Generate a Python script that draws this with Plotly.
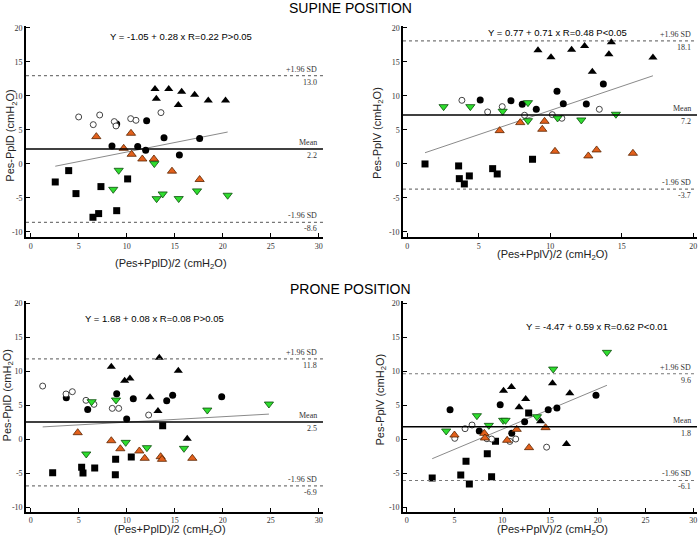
import plotly.graph_objects as go

# === TICKS ===
Y_TICKS = [-10, -5, 0, 5, 10, 15, 20]
Y_TICK_TEXT = ['-10', '-5', '0', '5', '10', '15', '20']
X_TICKS_30 = [0, 5, 10, 15, 20, 25, 30]
X_TICKS_20 = [0, 5, 10, 15, 20]

# === SUPINE, Pes-PplD ===
sup_d_sq_x = [2.56, 3.96, 4.72, 7.32, 10.1, 6.49, 7.08, 8.96]
sup_d_sq_y = [-2.65, -0.98, -4.36, -3.33, -2.2, -7.84, -7.3, -6.87]
sup_d_dot_x = [8.96, 12.08, 8.47, 11.15, 11.98, 13.89, 17.6, 15.49]
sup_d_dot_y = [5.88, 6.37, 2.65, 2.55, 2.01, 3.87, 3.75, 1.3]
sup_d_open_x = [5.0, 7.19, 6.52, 8.71, 8.89, 10.42, 10.97, 13.57]
sup_d_open_y = [6.91, 7.2, 5.78, 6.23, 5.59, 6.66, 6.42, 7.55]
sup_d_tri_x = [12.95, 14.38, 15.73, 17.08, 13.09, 15.38, 18.5, 20.3]
sup_d_tri_y = [11.02, 11.02, 10.62, 10.18, 9.59, 8.66, 9.35, 9.35]
sup_d_or_x = [6.84, 10.45, 9.69, 10.52, 11.63, 12.84, 14.72, 17.6]
sup_d_or_y = [4.02, 4.51, 2.3, 1.42, 0.73, 0.73, -1.06, -2.29]
sup_d_gr_x = [9.17, 12.88, 8.6, 13.12, 13.75, 15.42, 17.33, 20.52]
sup_d_gr_y = [-0.93, 0.05, -3.73, -5.1, -4.41, -5.09, -3.96, -4.6]

# === SUPINE, Pes-PplV ===
sup_v_sq_x = [1.24, 3.59, 3.64, 3.99, 4.34, 5.97, 6.29, 8.76]
sup_v_sq_y = [0.0, -0.29, -2.16, -2.94, -1.76, -0.69, -1.47, 0.69]
sup_v_dot_x = [5.1, 7.25, 8.04, 9.02, 10.47, 10.91, 12.52, 13.71]
sup_v_dot_y = [9.41, 9.31, 8.78, 8.04, 10.69, 8.87, 8.82, 11.76]
sup_v_open_x = [3.82, 5.62, 6.64, 8.2, 10.14, 10.81, 13.43]
sup_v_open_y = [9.36, 7.65, 8.43, 7.16, 7.25, 6.72, 8.04]
sup_v_tri_x = [9.14, 10.05, 11.49, 12.4, 14.27, 14.1, 12.94, 17.18]
sup_v_tri_y = [16.72, 15.69, 16.81, 17.35, 17.9, 16.13, 13.57, 15.64]
sup_v_or_x = [6.46, 7.9, 9.6, 9.44, 10.33, 12.66, 13.24, 15.78]
sup_v_or_y = [4.9, 6.08, 6.27, 5.1, 1.86, 1.18, 2.06, 1.57]
sup_v_gr_x = [2.54, 4.41, 6.67, 8.44, 8.44, 10.51, 12.17, 14.59]
sup_v_gr_y = [8.43, 8.43, 7.75, 9.02, 6.37, 6.76, 6.47, 7.31]

# === PRONE, Pes-PplD ===
pro_d_sq_x = [2.29, 5.31, 5.45, 6.67, 8.82, 8.85, 10.48, 13.75]
pro_d_sq_y = [-4.95, -4.17, -5.0, -4.26, -5.25, -2.99, -2.65, 1.96]
pro_d_dot_x = [3.71, 5.94, 8.96, 10.69, 10.0, 14.17, 14.79, 19.9]
pro_d_dot_y = [6.07, 4.36, 6.66, 5.93, 2.94, 5.64, 6.42, 6.2]
pro_d_open_x = [1.25, 3.68, 4.34, 5.76, 6.59, 8.5, 9.17, 12.29]
pro_d_open_y = [7.79, 6.62, 6.96, 5.69, 5.1, 4.51, 4.51, 3.53]
pro_d_tri_x = [8.4, 9.79, 10.34, 12.43, 13.26, 13.4, 15.38, 16.31]
pro_d_tri_y = [10.63, 8.58, 8.92, 6.13, 4.12, 11.96, 10.05, 0.04]
pro_d_or_x = [4.9, 8.4, 9.34, 11.32, 11.88, 13.54, 13.68, 16.84]
pro_d_or_y = [0.93, -0.25, -1.43, -1.76, -2.84, -2.6, -2.99, -2.84]
pro_d_gr_x = [6.35, 8.89, 5.79, 9.9, 12.11, 15.97, 18.4, 24.82]
pro_d_gr_y = [5.49, 5.74, -2.2, -0.49, -1.27, -1.37, 4.26, 5.15]

# === PRONE, Pes-PplV ===
pro_v_sq_x = [2.67, 6.21, 5.66, 6.56, 8.44, 8.89, 9.3, 12.77]
pro_v_sq_y = [-5.74, -3.28, -5.29, -6.62, -2.16, -5.54, -0.34, 3.82]
pro_v_dot_x = [4.54, 7.6, 9.79, 11.0, 12.35, 14.82, 15.73, 19.82]
pro_v_dot_y = [4.31, 1.18, 5.04, 0.84, 2.55, 4.31, 4.56, 6.42]
pro_v_open_x = [5.03, 6.11, 6.84, 8.4, 8.89, 10.8, 11.42, 14.65]
pro_v_open_y = [0.1, 1.52, 2.06, 0.04, 0.0, -0.35, 0.0, -1.2]
pro_v_tri_x = [10.14, 10.97, 11.77, 12.46, 14.02, 15.27, 17.08, 16.73]
pro_v_tri_y = [7.1, 7.65, 4.66, 5.88, 2.6, 8.19, 6.72, -0.74]
pro_v_or_x = [5.0, 8.13, 8.19, 10.52, 11.52, 12.81, 14.54]
pro_v_or_y = [0.59, 0.83, 0.15, -0.19, 1.42, -1.27, 1.67]
pro_v_gr_x = [4.13, 7.35, 8.6, 10.1, 10.35, 13.64, 15.34, 20.97]
pro_v_gr_y = [1.18, 3.43, 2.01, 2.75, 2.75, 3.28, 10.29, 12.75]

# === STATS (regression, mean, limits of agreement) ===
intercepts = [-1.05, 0.77, 1.68, -4.47]
slopes = [0.28, 0.71, 0.08, 0.59]
r_text = ['R=0.22 P>0.05', 'R=0.48 P<0.05', 'R=0.08 P>0.05', 'R=0.62 P<0.01']
means = [2.2, 7.2, 2.5, 1.8]
upper_sd = [13.0, 18.1, 11.8, 9.6]
lower_sd = [-8.6, -3.7, -6.9, -6.1]
y_titles = ['Pes-PplD (cmH<sub>2</sub>O)', 'Pes-PplV (cmH<sub>2</sub>O)',
            'Pes-PplD (cmH<sub>2</sub>O)', 'Pes-PplV (cmH<sub>2</sub>O)']
x_titles = ['(Pes+PplD)/2 (cmH<sub>2</sub>O)', '(Pes+PplV)/2 (cmH<sub>2</sub>O)',
            '(Pes+PplD)/2 (cmH<sub>2</sub>O)', '(Pes+PplV)/2 (cmH<sub>2</sub>O)']

panel_data = [
    [(sup_d_sq_x, sup_d_sq_y), (sup_d_dot_x, sup_d_dot_y), (sup_d_open_x, sup_d_open_y),
     (sup_d_tri_x, sup_d_tri_y), (sup_d_or_x, sup_d_or_y), (sup_d_gr_x, sup_d_gr_y)],
    [(sup_v_sq_x, sup_v_sq_y), (sup_v_dot_x, sup_v_dot_y), (sup_v_open_x, sup_v_open_y),
     (sup_v_tri_x, sup_v_tri_y), (sup_v_or_x, sup_v_or_y), (sup_v_gr_x, sup_v_gr_y)],
    [(pro_d_sq_x, pro_d_sq_y), (pro_d_dot_x, pro_d_dot_y), (pro_d_open_x, pro_d_open_y),
     (pro_d_tri_x, pro_d_tri_y), (pro_d_or_x, pro_d_or_y), (pro_d_gr_x, pro_d_gr_y)],
    [(pro_v_sq_x, pro_v_sq_y), (pro_v_dot_x, pro_v_dot_y), (pro_v_open_x, pro_v_open_y),
     (pro_v_tri_x, pro_v_tri_y), (pro_v_or_x, pro_v_or_y), (pro_v_gr_x, pro_v_gr_y)],
]

# marker style per group (same order as above)
STYLES = [
    dict(symbol='square', size=7, color='black', line=dict(width=0)),
    dict(symbol='circle', size=7, color='black', line=dict(width=0)),
    dict(symbol='circle', size=6, color='white', line=dict(color='#444', width=1)),
    dict(symbol='triangle-up', size=8, color='black', line=dict(width=0)),
    dict(symbol='triangle-up', size=8, color='#E2601C', line=dict(color='#5a2400', width=0.8)),
    dict(symbol='triangle-down', size=8, color='#2EDD2E', line=dict(color='#0b4d0b', width=0.8)),
]

# === LAYOUT GEOMETRY ===
X_DOM = [[0.0371, 0.4614], [0.5757, 0.9957], [0.0371, 0.4614], [0.5757, 0.9957]]
Y_DOM = [[0.5595, 0.9517], [0.5595, 0.9517], [0.0489, 0.4405], [0.0489, 0.4405]]
X_RANGE = [[-0.49, 30.45], [-0.3, 20.26], [-0.49, 30.45], [-0.39, 30.4]]
Y_RANGE = [[-10.74, 20.29], [-10.74, 20.29], [-10.69, 20.3], [-10.69, 20.3]]
X_TICKVALS = [X_TICKS_30, X_TICKS_20, X_TICKS_30, X_TICKS_30]
EQ_POS = [(0.522, 0.948), (0.527, 0.97), (0.434, 0.919), (0.66, 0.877)]
YT_POS = [(0.0165, 0.747), (0.54, 0.753), (0.0107, 0.266), (0.544, 0.257)]
XT_POS = [(0.244, 0.509), (0.789, 0.526), (0.243, 0.0145), (0.789, 0.0145)]

SERIF = 'Liberation Serif'
SANS = 'Liberation Sans'
CENTER = dict(xanchor='center', yanchor='middle', showarrow=False)

fig = go.Figure()
layout = dict(width=700, height=538,
              margin=dict(l=0, r=0, t=0, b=0, pad=0, autoexpand=False),
              plot_bgcolor='white', paper_bgcolor='white', showlegend=False)
shapes, annots = [], []

for i in range(4):
    sfx = '' if i == 0 else str(i + 1)
    xa, ya = 'x' + sfx, 'y' + sfx
    pts = panel_data[i]

    # регрессия от min до max x
    all_x = [v for grp in pts for v in grp[0]]
    xs = [min(all_x), max(all_x)]
    fig.add_trace(go.Scatter(x=xs, y=[intercepts[i] + slopes[i] * v for v in xs],
                             mode='lines', line=dict(color='#8a8a8a', width=1),
                             xaxis=xa, yaxis=ya, hoverinfo='skip'))
    for (gx, gy), st in zip(pts, STYLES):
        fig.add_trace(go.Scatter(x=gx, y=gy, mode='markers', marker=st,
                                 xaxis=xa, yaxis=ya))

    layout['xaxis' + sfx] = dict(domain=X_DOM[i], range=X_RANGE[i], anchor=ya,
                                 automargin=False,
                                 tickvals=X_TICKVALS[i], ticks='inside', ticklen=4,
                                 tickcolor='black', showline=True, linecolor='black',
                                 linewidth=2, showgrid=False, zeroline=False,
                                 tickfont=dict(family=SERIF, size=8, color='#333'))
    layout['yaxis' + sfx] = dict(domain=Y_DOM[i], range=Y_RANGE[i], anchor=xa,
                                 automargin=False,
                                 tickvals=Y_TICKS, ticktext=Y_TICK_TEXT, ticks='inside',
                                 ticklen=4, tickcolor='black', showline=True,
                                 linecolor='black', linewidth=1.5, showgrid=False,
                                 zeroline=False,
                                 tickfont=dict(family=SERIF, size=8, color='#333'))

    # mean and +-1.96 SD
    for val, dash, w, col in [(upper_sd[i], 'dot', 1.2, '#777'),
                              (means[i], 'solid', 1.5, 'black'),
                              (lower_sd[i], 'dot', 1.2, '#777')]:
        shapes.append(dict(type='line', xref=xa + ' domain', yref=ya, x0=0, x1=1,
                           y0=val, y1=val, line=dict(color=col, width=w, dash=dash)))
    for val, label in [(upper_sd[i], '+1.96 SD'), (means[i], 'Mean'), (lower_sd[i], '-1.96 SD')]:
        annots.append(dict(xref=xa + ' domain', yref=ya, x=0.985, y=val, text=label,
                           showarrow=False, xanchor='right', yanchor='bottom',
                           font=dict(family=SERIF, size=8, color='#333')))
        annots.append(dict(xref=xa + ' domain', yref=ya, x=0.985, y=val, text=f'{val:.1f}',
                           showarrow=False, xanchor='right', yanchor='top',
                           font=dict(family=SERIF, size=8, color='#333')))

    eq = f'Y = {intercepts[i]:.2f} + {slopes[i]:.2f} x {r_text[i]}'
    annots.append(dict(xref=xa + ' domain', yref=ya + ' domain', x=EQ_POS[i][0], y=EQ_POS[i][1],
                       text=eq, font=dict(family=SANS, size=9.5, color='black'), **CENTER))
    annots.append(dict(xref='paper', yref='paper', x=YT_POS[i][0], y=YT_POS[i][1],
                       text=y_titles[i], textangle=-90,
                       font=dict(family=SANS, size=11, color='#222'), **CENTER))
    annots.append(dict(xref='paper', yref='paper', x=XT_POS[i][0], y=XT_POS[i][1],
                       text=x_titles[i],
                       font=dict(family=SANS, size=11, color='#222'), **CENTER))

annots.append(dict(xref='paper', yref='paper', x=0.5, y=0.985, text='SUPINE POSITION',
                   font=dict(family=SANS, size=14, color='black'), **CENTER))
annots.append(dict(xref='paper', yref='paper', x=0.5, y=0.463, text='PRONE POSITION',
                   font=dict(family=SANS, size=14, color='black'), **CENTER))

layout['shapes'] = shapes
layout['annotations'] = annots
fig.update_layout(**layout)

# убираем стандартный отступ body, чтобы фигура легла ровно в окно
fig.write_html('out.html', config={'displayModeBar': False},
               post_script="document.body.style.margin='0';")
